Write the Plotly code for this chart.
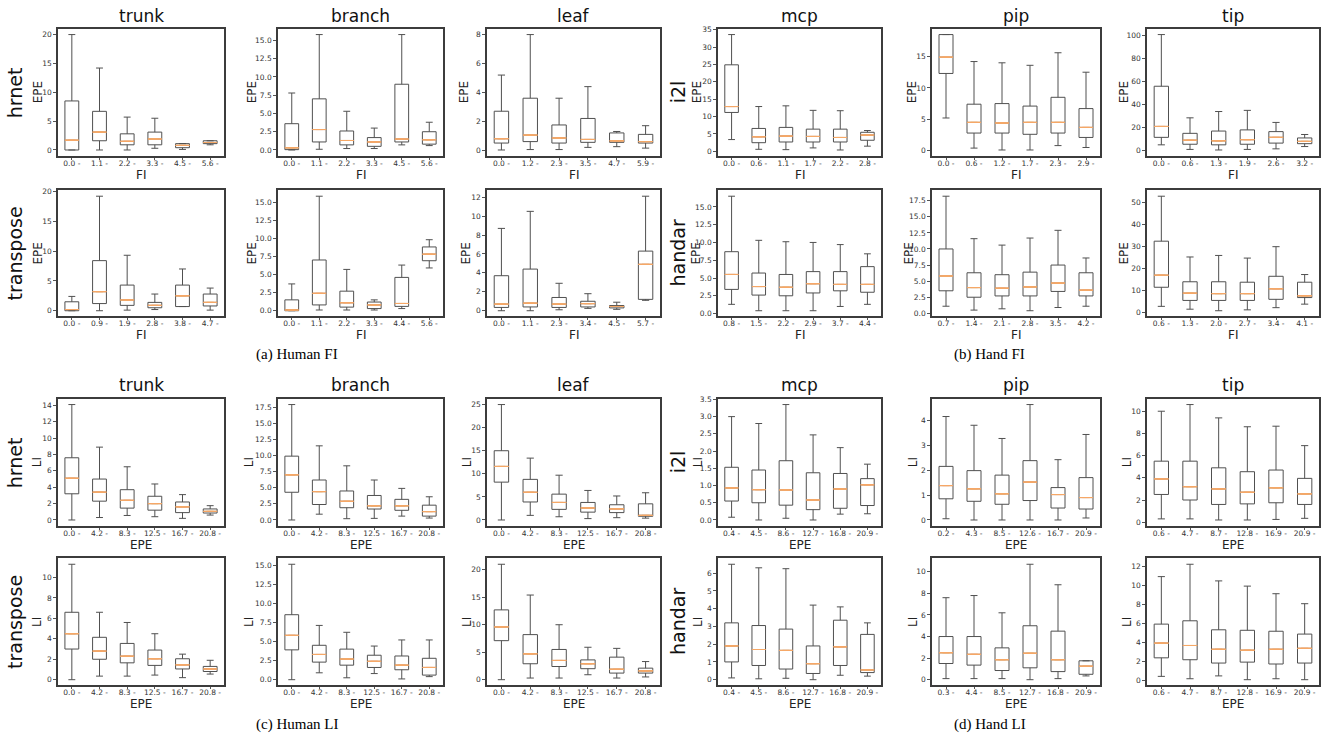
import plotly.graph_objects as go

# ---------------- DATA (box statistics) ----------------
# (a) Human FI  -- hrnet
fi_hrnet_trunk_x = ["0.0 -", "1.1 -", "2.2 -", "3.3 -", "4.5 -", "5.6 -"]
fi_hrnet_trunk_lo = [0.0, 0.0, 0.0, 0.3, 0.1, 0.9]
fi_hrnet_trunk_q1 = [0.0, 1.6, 0.9, 0.9, 0.4, 1.1]
fi_hrnet_trunk_med = [1.7, 3.1, 1.5, 1.9, 0.8, 1.3]
fi_hrnet_trunk_q3 = [8.5, 6.7, 2.8, 3.1, 1.1, 1.6]
fi_hrnet_trunk_hi = [20.0, 14.2, 5.7, 5.5, 1.1, 1.6]

fi_hrnet_branch_x = ["0.0 -", "1.1 -", "2.2 -", "3.3 -", "4.5 -", "5.6 -"]
fi_hrnet_branch_lo = [0.0, 0.1, 0.2, 0.2, 0.7, 0.6]
fi_hrnet_branch_q1 = [0.05, 1.1, 0.7, 0.5, 1.1, 0.8]
fi_hrnet_branch_med = [0.3, 2.8, 1.3, 1.1, 1.5, 1.4]
fi_hrnet_branch_q3 = [3.6, 7.0, 2.6, 1.7, 9.0, 2.5]
fi_hrnet_branch_hi = [7.8, 15.8, 5.3, 3.0, 15.8, 3.8]

fi_hrnet_leaf_x = ["0.0 -", "1.2 -", "2.3 -", "3.5 -", "4.7 -", "5.9 -"]
fi_hrnet_leaf_lo = [0.02, 0.05, 0.05, 0.2, 0.25, 0.15]
fi_hrnet_leaf_q1 = [0.5, 0.6, 0.5, 0.55, 0.55, 0.5]
fi_hrnet_leaf_med = [0.8, 1.05, 0.85, 0.75, 0.65, 0.6]
fi_hrnet_leaf_q3 = [2.7, 3.6, 1.75, 2.2, 1.2, 1.1]
fi_hrnet_leaf_hi = [5.2, 8.0, 3.6, 4.4, 1.3, 1.7]

# (a) Human FI  -- transpose
fi_transpose_trunk_x = ["0.0 -", "0.9 -", "1.9 -", "2.8 -", "3.8 -", "4.7 -"]
fi_transpose_trunk_lo = [0.0, 0.0, 0.1, 0.2, 0.7, 0.1]
fi_transpose_trunk_q1 = [0.0, 1.2, 0.9, 0.5, 0.7, 0.8]
fi_transpose_trunk_med = [0.2, 3.2, 1.8, 0.9, 2.5, 1.4]
fi_transpose_trunk_q3 = [1.5, 8.4, 4.3, 1.4, 4.3, 2.8]
fi_transpose_trunk_hi = [2.4, 19.2, 9.3, 2.8, 7.0, 3.8]

fi_transpose_branch_x = ["0.0 -", "1.1 -", "2.2 -", "3.3 -", "4.4 -", "5.6 -"]
fi_transpose_branch_lo = [0.0, 0.1, 0.1, 0.1, 0.3, 5.9]
fi_transpose_branch_q1 = [0.0, 0.8, 0.5, 0.3, 0.6, 6.9]
fi_transpose_branch_med = [0.1, 2.4, 1.1, 0.8, 1.0, 7.8]
fi_transpose_branch_q3 = [1.5, 7.0, 2.7, 1.2, 4.6, 8.8]
fi_transpose_branch_hi = [3.7, 15.8, 5.7, 1.5, 6.3, 9.8]

fi_transpose_leaf_x = ["0.0 -", "1.1 -", "2.3 -", "3.4 -", "4.5 -", "5.7 -"]
fi_transpose_leaf_lo = [0.0, 0.0, 0.1, 0.25, 0.15, 1.1]
fi_transpose_leaf_q1 = [0.35, 0.4, 0.35, 0.4, 0.3, 1.2]
fi_transpose_leaf_med = [0.7, 0.8, 0.7, 0.75, 0.45, 4.9]
fi_transpose_leaf_q3 = [3.7, 4.4, 1.4, 1.0, 0.55, 6.3]
fi_transpose_leaf_hi = [8.7, 10.5, 2.9, 1.8, 0.9, 12.1]

# (b) Hand FI  -- i2l
fi_i2l_mcp_x = ["0.0 -", "0.6 -", "1.1 -", "1.7 -", "2.2 -", "2.8 -"]
fi_i2l_mcp_lo = [3.4, 0.6, 0.5, 1.0, 0.4, 1.5]
fi_i2l_mcp_q1 = [11.2, 2.5, 2.7, 2.7, 2.7, 3.2]
fi_i2l_mcp_med = [12.9, 4.2, 4.4, 4.3, 4.0, 4.7]
fi_i2l_mcp_q3 = [24.9, 6.6, 6.9, 6.4, 6.4, 5.5]
fi_i2l_mcp_hi = [33.6, 12.9, 13.1, 11.8, 11.7, 6.0]

fi_i2l_pip_x = ["0.0 -", "0.6 -", "1.2 -", "1.7 -", "2.3 -", "2.9 -"]
fi_i2l_pip_lo = [5.2, 0.4, 0.1, 0.1, 0.8, 0.5]
fi_i2l_pip_q1 = [12.3, 2.8, 2.8, 2.6, 2.8, 2.1]
fi_i2l_pip_med = [14.9, 4.5, 4.4, 4.5, 4.5, 3.7]
fi_i2l_pip_q3 = [18.5, 7.4, 7.5, 7.1, 8.5, 6.7]
fi_i2l_pip_hi = [18.5, 14.2, 14.0, 13.6, 15.6, 12.5]

fi_i2l_tip_x = ["0.0 -", "0.6 -", "1.3 -", "1.9 -", "2.6 -", "3.2 -"]
fi_i2l_tip_lo = [5.0, 1.0, 0.5, 1.0, 1.5, 3.5]
fi_i2l_tip_q1 = [11.5, 5.5, 5.0, 5.5, 6.5, 6.0]
fi_i2l_tip_med = [21.0, 9.0, 8.5, 9.5, 11.5, 8.0]
fi_i2l_tip_q3 = [56.0, 15.0, 17.0, 18.0, 16.5, 11.0]
fi_i2l_tip_hi = [101.0, 28.5, 34.0, 35.0, 24.5, 14.0]

# (b) Hand FI  -- handar
fi_handar_mcp_x = ["0.8 -", "1.5 -", "2.2 -", "2.9 -", "3.7 -", "4.4 -"]
fi_handar_mcp_lo = [1.3, 0.4, 0.4, 0.4, 1.0, 1.3]
fi_handar_mcp_q1 = [3.4, 2.6, 2.5, 2.9, 3.2, 3.0]
fi_handar_mcp_med = [5.5, 3.8, 3.7, 4.2, 4.1, 4.1]
fi_handar_mcp_q3 = [8.7, 5.7, 5.5, 5.9, 5.9, 6.6]
fi_handar_mcp_hi = [16.5, 10.3, 10.1, 10.0, 9.7, 8.4]

fi_handar_pip_x = ["0.7 -", "1.4 -", "2.1 -", "2.8 -", "3.5 -", "4.2 -"]
fi_handar_pip_lo = [1.1, 0.5, 0.7, 0.4, 0.9, 1.1]
fi_handar_pip_q1 = [3.5, 2.5, 2.7, 2.7, 3.4, 2.7]
fi_handar_pip_med = [5.8, 4.0, 3.9, 4.1, 4.7, 3.6]
fi_handar_pip_q3 = [10.0, 6.3, 6.0, 6.4, 7.5, 6.3]
fi_handar_pip_hi = [18.2, 11.6, 10.6, 11.7, 12.9, 8.6]

fi_handar_tip_x = ["0.6 -", "1.3 -", "2.0 -", "2.7 -", "3.4 -", "4.1 -"]
fi_handar_tip_lo = [2.8, 1.5, 0.8, 1.2, 2.2, 3.8]
fi_handar_tip_q1 = [11.5, 5.5, 5.5, 5.5, 6.0, 6.8]
fi_handar_tip_med = [17.0, 8.8, 8.6, 8.6, 10.8, 7.6]
fi_handar_tip_q3 = [32.5, 14.0, 14.0, 13.8, 16.5, 13.8]
fi_handar_tip_hi = [53.0, 25.3, 26.0, 24.8, 30.0, 17.3]

# (c) Human LI  -- hrnet
li_hrnet_trunk_x = ["0.0 -", "4.2 -", "8.3 -", "12.5 -", "16.7 -", "20.8 -"]
li_hrnet_trunk_lo = [0.0, 0.3, 0.55, 0.4, 0.2, 0.6]
li_hrnet_trunk_q1 = [3.2, 2.3, 1.45, 1.2, 0.9, 0.85]
li_hrnet_trunk_med = [5.1, 3.4, 2.4, 2.0, 1.6, 1.05]
li_hrnet_trunk_q3 = [7.6, 5.0, 3.7, 2.9, 2.2, 1.35]
li_hrnet_trunk_hi = [14.1, 8.9, 6.5, 4.4, 3.1, 1.75]

li_hrnet_branch_x = ["0.0 -", "4.2 -", "8.3 -", "12.5 -", "16.7 -", "20.8 -"]
li_hrnet_branch_lo = [0.0, 0.9, 0.2, 0.25, 0.6, 0.3]
li_hrnet_branch_q1 = [4.3, 2.4, 1.9, 1.7, 1.5, 0.6]
li_hrnet_branch_med = [7.0, 4.4, 2.9, 2.2, 2.2, 1.3]
li_hrnet_branch_q3 = [9.9, 6.2, 4.5, 3.8, 3.2, 2.3]
li_hrnet_branch_hi = [17.9, 11.5, 8.4, 6.2, 4.9, 3.6]

li_hrnet_leaf_x = ["0.0 -", "4.2 -", "8.3 -", "12.5 -", "16.7 -", "20.8 -"]
li_hrnet_leaf_lo = [0.0, 1.0, 0.7, 0.3, 0.5, 0.4]
li_hrnet_leaf_q1 = [8.2, 3.9, 2.3, 1.7, 1.6, 0.8]
li_hrnet_leaf_med = [11.6, 6.0, 3.8, 2.6, 2.4, 1.0]
li_hrnet_leaf_q3 = [15.0, 8.8, 5.6, 3.8, 3.3, 3.5]
li_hrnet_leaf_hi = [25.0, 13.4, 9.7, 6.4, 5.2, 5.9]

# (c) Human LI  -- transpose
li_transpose_trunk_x = ["0.0 -", "4.2 -", "8.3 -", "12.5 -", "16.7 -", "20.8 -"]
li_transpose_trunk_lo = [0.0, 0.35, 0.35, 0.45, 0.2, 0.55]
li_transpose_trunk_q1 = [3.0, 2.0, 1.65, 1.4, 1.05, 0.8]
li_transpose_trunk_med = [4.5, 2.8, 2.3, 2.05, 1.45, 1.05]
li_transpose_trunk_q3 = [6.6, 4.15, 3.55, 2.9, 2.05, 1.3]
li_transpose_trunk_hi = [11.3, 6.6, 5.6, 4.5, 2.5, 1.9]

li_transpose_branch_x = ["0.0 -", "4.2 -", "8.3 -", "12.5 -", "16.7 -", "20.8 -"]
li_transpose_branch_lo = [0.0, 0.9, 0.25, 0.8, 0.1, 0.4]
li_transpose_branch_q1 = [3.9, 2.3, 1.9, 1.6, 1.3, 0.6]
li_transpose_branch_med = [5.8, 3.3, 2.7, 2.4, 1.9, 1.6]
li_transpose_branch_q3 = [8.5, 4.5, 4.0, 3.2, 3.1, 2.8]
li_transpose_branch_hi = [15.1, 7.1, 6.2, 4.4, 5.2, 5.2]

li_transpose_leaf_x = ["0.0 -", "4.2 -", "8.3 -", "12.5 -", "16.7 -", "20.8 -"]
li_transpose_leaf_lo = [0.0, 0.3, 0.3, 0.9, 0.3, 0.5]
li_transpose_leaf_q1 = [7.1, 2.9, 2.4, 2.0, 1.2, 1.2]
li_transpose_leaf_med = [9.6, 4.7, 3.5, 2.9, 1.9, 1.6]
li_transpose_leaf_q3 = [12.7, 8.2, 5.5, 3.6, 4.1, 2.1]
li_transpose_leaf_hi = [21.0, 15.4, 10.0, 5.9, 5.7, 3.3]

# (d) Hand LI  -- i2l
li_i2l_mcp_x = ["0.4 -", "4.5 -", "8.6 -", "12.7 -", "16.8 -", "20.9 -"]
li_i2l_mcp_lo = [0.08, 0.0, 0.05, 0.0, 0.17, 0.18]
li_i2l_mcp_q1 = [0.55, 0.5, 0.43, 0.3, 0.34, 0.42]
li_i2l_mcp_med = [0.93, 0.88, 0.87, 0.58, 0.9, 1.02]
li_i2l_mcp_q3 = [1.53, 1.45, 1.72, 1.37, 1.35, 1.2]
li_i2l_mcp_hi = [3.0, 2.8, 3.35, 2.47, 2.1, 1.62]

li_i2l_pip_x = ["0.2 -", "4.3 -", "8.5 -", "12.6 -", "16.7 -", "20.9 -"]
li_i2l_pip_lo = [0.05, 0.0, 0.0, 0.0, 0.0, 0.08]
li_i2l_pip_q1 = [0.85, 0.75, 0.63, 0.78, 0.48, 0.44]
li_i2l_pip_med = [1.38, 1.25, 1.05, 1.52, 1.02, 0.9]
li_i2l_pip_q3 = [2.15, 1.98, 1.8, 2.38, 1.3, 1.7]
li_i2l_pip_hi = [4.15, 3.8, 3.27, 4.63, 2.42, 3.43]

li_i2l_tip_x = ["0.6 -", "4.7 -", "8.7 -", "12.8 -", "16.9 -", "20.9 -"]
li_i2l_tip_lo = [0.3, 0.3, 0.2, 0.2, 0.25, 0.35]
li_i2l_tip_q1 = [2.5, 2.0, 1.6, 1.65, 1.75, 1.6]
li_i2l_tip_med = [3.9, 3.2, 3.0, 2.7, 3.1, 2.55]
li_i2l_tip_q3 = [5.5, 5.5, 4.9, 4.55, 4.7, 3.95]
li_i2l_tip_hi = [10.0, 10.6, 9.4, 8.6, 8.65, 6.9]

# (d) Hand LI  -- handar
li_handar_mcp_x = ["0.4 -", "4.5 -", "8.6 -", "12.7 -", "16.8 -", "20.9 -"]
li_handar_mcp_lo = [0.1, 0.05, 0.08, 0.0, 0.25, 0.2]
li_handar_mcp_q1 = [1.0, 0.8, 0.6, 0.35, 0.8, 0.4]
li_handar_mcp_med = [1.9, 1.7, 1.65, 0.9, 1.85, 0.55]
li_handar_mcp_q3 = [3.2, 3.05, 2.85, 1.9, 3.35, 2.55]
li_handar_mcp_hi = [6.5, 6.3, 6.25, 4.2, 4.1, 3.2]

li_handar_pip_x = ["0.3 -", "4.4 -", "8.5 -", "12.7 -", "16.8 -", "20.9 -"]
li_handar_pip_lo = [0.1, 0.1, 0.1, 0.0, 0.1, 0.35]
li_handar_pip_q1 = [1.5, 1.35, 0.85, 1.1, 0.75, 0.5]
li_handar_pip_med = [2.5, 2.35, 1.85, 2.45, 1.85, 1.25]
li_handar_pip_q3 = [4.0, 4.0, 2.95, 5.0, 4.5, 1.75]
li_handar_pip_hi = [7.6, 7.8, 6.2, 10.7, 8.8, 1.75]

li_handar_tip_x = ["0.6 -", "4.7 -", "8.7 -", "12.8 -", "16.9 -", "20.9 -"]
li_handar_tip_lo = [0.45, 0.2, 0.5, 0.1, 0.2, 0.1]
li_handar_tip_q1 = [2.4, 2.2, 1.85, 1.95, 1.75, 1.85]
li_handar_tip_med = [3.95, 3.7, 3.3, 3.2, 3.3, 3.4]
li_handar_tip_q3 = [5.95, 6.3, 5.35, 5.3, 5.2, 4.9]
li_handar_tip_hi = [10.95, 12.25, 10.5, 9.95, 9.15, 8.1]

# labels
col_titles = ["trunk", "branch", "leaf", "mcp", "pip", "tip"]
row_labels_left = ["hrnet", "transpose", "hrnet", "transpose"]
row_labels_right = ["i2l", "handar", "i2l", "handar"]
captions = ["(a) Human FI", "(b) Hand FI", "(c) Human LI", "(d) Hand LI"]
y_titles = ["EPE", "EPE", "LI", "LI"]
x_titles = ["FI", "FI", "EPE", "EPE"]
y_dticks = [
    [5, 2.5, 2, 5, 5, 20],
    [5, 2.5, 2, 2.5, 2.5, 10],
    [2, 2.5, 5, 0.5, 1, 2],
    [2, 2.5, 5, 1, 2, 2],
]

G = globals()
row_keys = [("fi", "hrnet", "i2l"), ("fi", "transpose", "handar"),
            ("li", "hrnet", "i2l"), ("li", "transpose", "handar")]

# ---------------- LAYOUT GEOMETRY (pixels) ----------------
W, H = 1325, 744
col_px = [(58, 224), (278, 443), (487, 660), (718, 881), (932, 1100), (1147, 1319)]
row_px = [(25, 153), (188, 315), (398, 526), (559, 687)]
# distance (px) of each y-axis title centre to the left of its frame
ytitle_off = [
    [20, 26, 23, 21, 20, 23],
    [20, 26, 21, 22, 23, 23],
    [21, 29, 20, 20, 19, 20],
    [21, 29, 20, 20, 19, 20],
]

BOX_COLOR = "#505050"
MED_COLOR = "#f6a867"
FRAME_COLOR = "#3c3c3c"
FONT = "DejaVu Sans"
XTICK_FONT = dict(family=FONT, size=7.5, color="#333")
YTICK_FONT = dict(family=FONT, size=7.5, color="#333")
AX_TITLE_FONT = dict(family=FONT, size=12, color="#222")

fig = go.Figure()
layout = dict(
    width=W, height=H, margin=dict(l=0, r=0, t=0, b=0),
    paper_bgcolor="white", plot_bgcolor="white",
    boxmode="overlay", showlegend=False,
    font=dict(family=FONT, color="#222"),
)

annotations = []
idx = 0
for r in range(4):
    kind, left_model, right_model = row_keys[r]
    for c in range(6):
        idx += 1
        model = left_model if c < 3 else right_model
        part = col_titles[c]
        pre = f"{kind}_{model}_{part}"
        xs = G[pre + "_x"]
        lo, q1, med, q3, hi = (G[pre + "_lo"], G[pre + "_q1"], G[pre + "_med"],
                               G[pre + "_q3"], G[pre + "_hi"])
        xa = "x" if idx == 1 else f"x{idx}"
        ya = "y" if idx == 1 else f"y{idx}"
        fig.add_trace(go.Box(
            x=xs, q1=q1, median=med, q3=q3, lowerfence=lo, upperfence=hi,
            xaxis=xa, yaxis=ya, width=0.5, whiskerwidth=0.5,
            line=dict(color=BOX_COLOR, width=1), fillcolor="white",
            boxpoints=False, hoverinfo="skip", showlegend=False))
        fig.add_trace(go.Box(
            x=xs, q1=med, median=med, q3=med, lowerfence=med, upperfence=med,
            xaxis=xa, yaxis=ya, width=0.5, whiskerwidth=0.5,
            line=dict(color=MED_COLOR, width=1), fillcolor="rgba(0,0,0,0)",
            boxpoints=False, hoverinfo="skip", showlegend=False))

        ymin, ymax = min(lo), max(hi)
        span = ymax - ymin
        yr = [ymin - 0.05 * span, ymax + 0.05 * span]
        dt = y_dticks[r][c]
        fmt = ".1f" if dt != int(dt) else "d"

        x0, x1 = col_px[c]
        t0, t1 = row_px[r]
        xkey = "xaxis" if idx == 1 else f"xaxis{idx}"
        ykey = "yaxis" if idx == 1 else f"yaxis{idx}"
        layout[xkey] = dict(
            domain=[x0 / W, x1 / W], anchor=ya, type="category",
            range=[-0.5, len(xs) - 0.5], showgrid=False, zeroline=False,
            showline=True, mirror=True, linecolor=FRAME_COLOR, linewidth=1.5,
            ticks="outside", ticklen=2, tickcolor="#555", tickwidth=1,
            tickfont=XTICK_FONT, tickangle=0, ticklabelstandoff=-3,
        )
        layout[ykey] = dict(
            domain=[1 - t1 / H, 1 - t0 / H], anchor=xa, range=yr,
            tick0=0, dtick=dt, tickformat=fmt, showgrid=False, zeroline=False,
            showline=True, mirror=True, linecolor=FRAME_COLOR, linewidth=1.5,
            ticks="outside", ticklen=3, tickcolor="#555", tickwidth=1,
            tickfont=YTICK_FONT,
        )
        # axis titles
        annotations.append(dict(
            text=x_titles[r], x=(x0 + x1) / 2 / W, y=1 - (t1 + 19) / H,
            xref="paper", yref="paper", showarrow=False,
            xanchor="center", yanchor="middle", font=AX_TITLE_FONT))
        annotations.append(dict(
            text=y_titles[r], x=(x0 - ytitle_off[r][c]) / W, y=1 - (t0 + t1) / 2 / H,
            textangle=-90, xref="paper", yref="paper", showarrow=False,
            xanchor="center", yanchor="middle", font=AX_TITLE_FONT))

# column titles
for r in (0, 2):
    ty = 12 if r == 0 else 384
    for c in range(6):
        x0, x1 = col_px[c]
        annotations.append(dict(
            text=col_titles[c], x=(x0 + x1) / 2 / W, y=1 - ty / H,
            xref="paper", yref="paper", showarrow=False,
            xanchor="center", yanchor="middle",
            font=dict(family=FONT, size=17, color="#111")))

# row labels
for r in range(4):
    t0, t1 = row_px[r]
    yc = 1 - (t0 + t1) / 2 / H
    annotations.append(dict(text=row_labels_left[r], x=15 / W, y=yc, textangle=-90,
                            xref="paper", yref="paper", showarrow=False,
                            xanchor="center", yanchor="middle",
                            font=dict(family=FONT, size=19, color="#111")))
    annotations.append(dict(text=row_labels_right[r], x=678 / W, y=yc, textangle=-90,
                            xref="paper", yref="paper", showarrow=False,
                            xanchor="center", yanchor="middle",
                            font=dict(family=FONT, size=19, color="#111")))

# captions
cap_pos = [(297, 353), (990, 353), (297, 726), (990, 726)]
for text, (cx, cy) in zip(captions, cap_pos):
    annotations.append(dict(text=text, x=cx / W, y=1 - cy / H,
                            xref="paper", yref="paper", showarrow=False,
                            xanchor="center", yanchor="middle",
                            font=dict(family="Liberation Serif", size=15, color="#000")))

layout["annotations"] = annotations
fig.update_layout(**layout)
fig.write_html("out.html", config={"displayModeBar": False},
               post_script="document.body.style.margin='0';")
